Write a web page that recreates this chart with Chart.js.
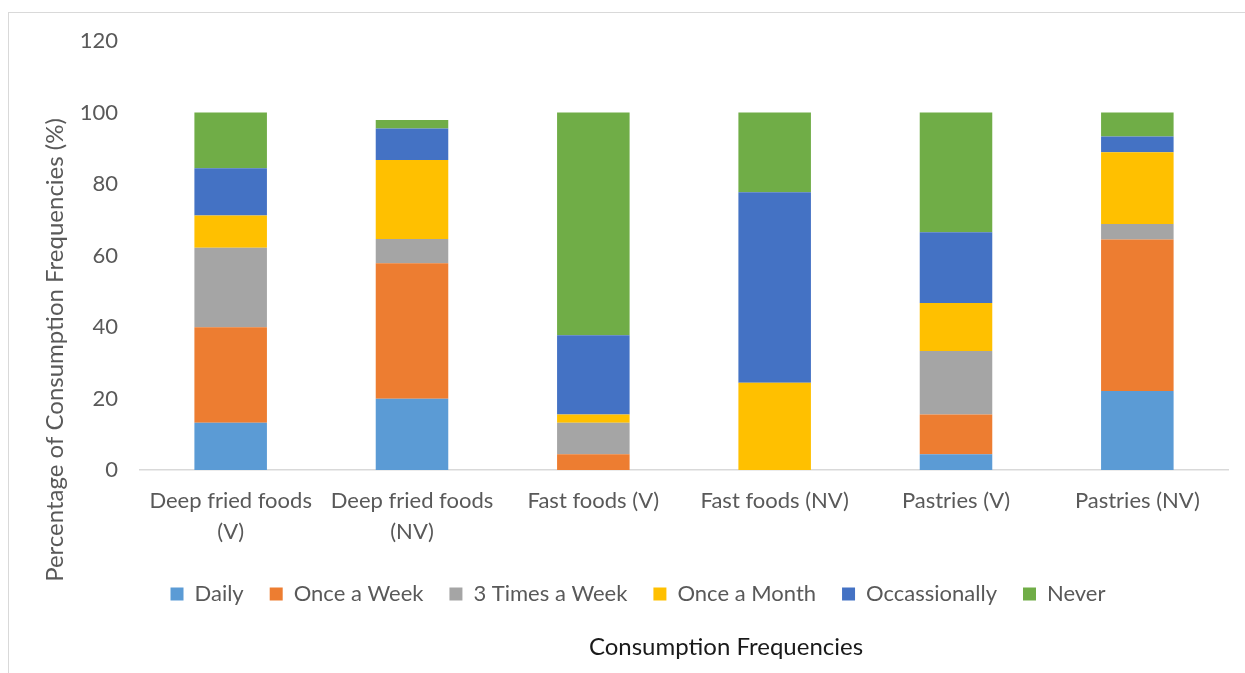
<!DOCTYPE html>
<html>
<head>
<meta charset="utf-8">
<script src="https://cdn.jsdelivr.net/npm/chart.js@4.4.1/dist/chart.umd.min.js"></script>
<style>
  html, body { margin: 0; padding: 0; background: #fff; overflow: hidden; }
  #frame { position: absolute; left: 8px; top: 12px; width: 1300px; height: 700px; border: 1px solid #d9d9d9; }
  #wrap { position: absolute; left: 0; top: 0; width: 1245px; height: 673px; }
</style>
</head>
<body>
<div id="frame"></div>
<div id="wrap"><canvas id="freqChart"></canvas></div>
<script>
// food groups (V = vegetarian, NV = non-vegetarian)
const categories = [
  ['Deep fried foods', '(V)'],
  ['Deep fried foods', '(NV)'],
  'Fast foods (V)',
  'Fast foods (NV)',
  'Pastries (V)',
  'Pastries (NV)'
];

// % of respondents per frequency
const daily        = [13.2, 19.9, 0,    0,    4.4,  22.1];
const onceAWeek    = [26.7, 37.9, 4.4,  0,    11.1, 42.4];
const threeAWeek   = [22.3, 6.8,  8.8,  0,    17.8, 4.3];
const onceAMonth   = [9.0,  22.1, 2.3,  24.4, 13.4, 20.1];
const occasionally = [13.2, 8.8,  22.2, 53.3, 19.8, 4.4];
const never        = [15.6, 2.4,  62.3, 22.3, 33.5, 6.7];

const seriesNames  = ['Daily', 'Once a Week', '3 Times a Week', 'Once a Month', 'Occassionally', 'Never'];
const seriesColors = ['#5B9BD5', '#ED7D31', '#A5A5A5', '#FFC000', '#4472C4', '#70AD47'];
const seriesData   = [daily, onceAWeek, threeAWeek, onceAMonth, occasionally, never];

const FONT = 'Lato, "Open Sans", sans-serif';
const GREY = '#595959';

// axis titles drawn by hand: the x title sits under the legend
const axisTitles = {
  id: 'axisTitles',
  beforeDraw(chart) {
    // nudge the legend row a little to the right
    const lg = chart.legend;
    if (lg && !lg._shifted) { lg.left += 24; lg.right += 24; lg._shifted = true; }
  },
  afterDraw(chart) {
    const ctx = chart.ctx;
    ctx.save();
    ctx.font = '24px ' + FONT;
    ctx.textAlign = 'center';
    ctx.textBaseline = 'middle';
    ctx.fillStyle = '#1a1a1a';
    ctx.fillText('Consumption Frequencies', 726, 647);
    ctx.translate(55, 350);
    ctx.rotate(-Math.PI / 2);
    ctx.fillStyle = GREY;
    ctx.fillText('Percentage of Consumption Frequencies (%)', 0, 0);
    ctx.restore();
  }
};

new Chart(document.getElementById('freqChart'), {
  type: 'bar',
  data: {
    labels: categories,
    datasets: seriesData.map((d, i) => ({
      label: seriesNames[i],
      data: d,
      backgroundColor: seriesColors[i],
      borderWidth: 0,
      categoryPercentage: 1,
      barPercentage: 0.4
    }))
  },
  options: {
    responsive: true,
    maintainAspectRatio: false,
    animation: false,
    layout: { padding: { top: 41, right: 17, bottom: 58, left: 0 } },
    plugins: {
      tooltip: { enabled: false },
      legend: {
        position: 'bottom',
        labels: {
          font: { family: FONT, size: 22 },
          color: GREY,
          boxWidth: 13,
          boxHeight: 13,
          padding: 26
        }
      }
    },
    scales: {
      x: {
        stacked: true,
        grid: { display: false, drawTicks: false },
        border: { color: '#d9d9d9', width: 1.5 },
        ticks: {
          font: { family: FONT, size: 22, lineHeight: 1.4 },
          color: GREY,
          padding: 16,
          maxRotation: 0,
          autoSkip: false
        },
        afterFit(scale) { scale.height = 87; }
      },
      y: {
        stacked: true,
        min: 0,
        max: 120,
        grid: { display: false, drawTicks: false },
        border: { display: false },
        ticks: {
          stepSize: 20,
          font: { family: FONT, size: 22 },
          color: GREY,
          padding: 22
        },
        afterFit(scale) { scale.width = 140; }
      }
    }
  },
  plugins: [axisTitles]
});
</script>
</body>
</html>
